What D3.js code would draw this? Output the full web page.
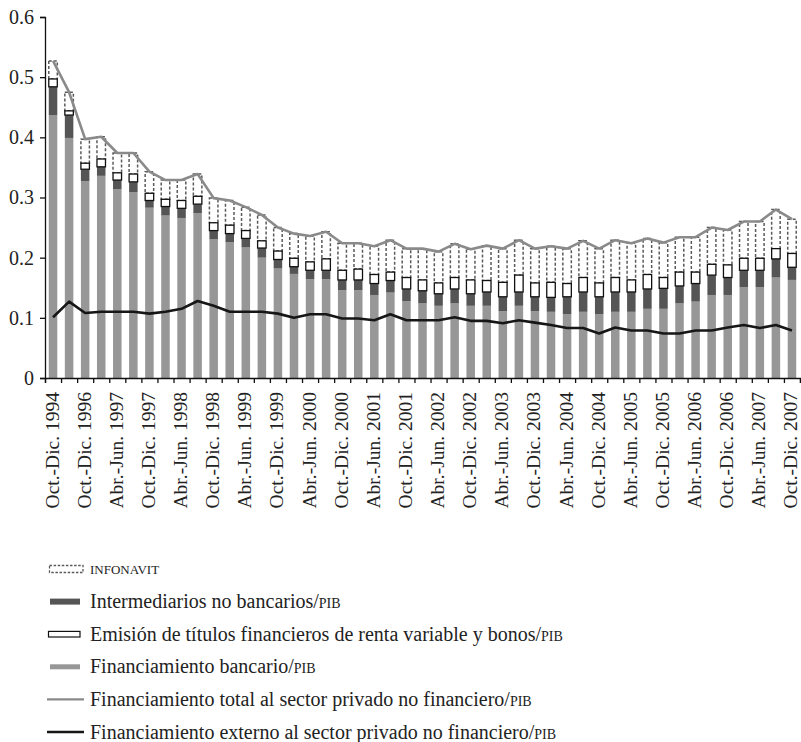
<!DOCTYPE html>
<html>
<head>
<meta charset="utf-8">
<script src="https://cdn.jsdelivr.net/npm/d3@7/dist/d3.min.js"></script>
<style>
  html, body { margin: 0; padding: 0; background: #fff; }
  svg { display: block; }
  text { font-family: "Liberation Serif", "DejaVu Serif", serif; fill: #222; }
</style>
</head>
<body>
<svg id="chart" width="801" height="742"></svg>
<script>
// ---------------- DATA ----------------
const categories = [
  "Oct.-Dic. 1994", "Oct.-Dic. 1995", "Oct.-Dic. 1996",
  "Ene.-Mar. 1997", "Abr.-Jun. 1997", "Jul.-Sep. 1997", "Oct.-Dic. 1997",
  "Ene.-Mar. 1998", "Abr.-Jun. 1998", "Jul.-Sep. 1998", "Oct.-Dic. 1998",
  "Ene.-Mar. 1999", "Abr.-Jun. 1999", "Jul.-Sep. 1999", "Oct.-Dic. 1999",
  "Ene.-Mar. 2000", "Abr.-Jun. 2000", "Jul.-Sep. 2000", "Oct.-Dic. 2000",
  "Ene.-Mar. 2001", "Abr.-Jun. 2001", "Jul.-Sep. 2001", "Oct.-Dic. 2001",
  "Ene.-Mar. 2002", "Abr.-Jun. 2002", "Jul.-Sep. 2002", "Oct.-Dic. 2002",
  "Ene.-Mar. 2003", "Abr.-Jun. 2003", "Jul.-Sep. 2003", "Oct.-Dic. 2003",
  "Ene.-Mar. 2004", "Abr.-Jun. 2004", "Jul.-Sep. 2004", "Oct.-Dic. 2004",
  "Ene.-Mar. 2005", "Abr.-Jun. 2005", "Jul.-Sep. 2005", "Oct.-Dic. 2005",
  "Ene.-Mar. 2006", "Abr.-Jun. 2006", "Jul.-Sep. 2006", "Oct.-Dic. 2006",
  "Ene.-Mar. 2007", "Abr.-Jun. 2007", "Jul.-Sep. 2007", "Oct.-Dic. 2007"
];
// Financiamiento bancario/PIB
const bancario = [.437,.399,.327,.336,.314,.309,.283,.270,.266,.274,.231,.226,.217,.200,.182,.173,.164,.164,.146,.146,.138,.142,.128,.124,.120,.124,.120,.120,.111,.120,.111,.110,.106,.110,.106,.110,.110,.115,.115,.124,.127,.138,.138,.151,.151,.167,.163];
// Intermediarios no bancarios/PIB
const noBancarios = [.047,.038,.020,.015,.015,.017,.012,.015,.016,.015,.014,.014,.015,.016,.015,.012,.015,.015,.017,.017,.019,.020,.020,.021,.020,.024,.020,.023,.024,.023,.024,.024,.029,.033,.029,.033,.033,.033,.034,.029,.030,.033,.029,.028,.028,.031,.021];
// Emisión de títulos financieros de renta variable y bonos/PIB
const titulos = [.013,.007,.010,.013,.012,.013,.012,.012,.013,.013,.013,.014,.013,.012,.014,.014,.014,.019,.016,.018,.015,.014,.019,.018,.018,.019,.023,.019,.024,.028,.023,.025,.022,.024,.023,.024,.020,.024,.018,.023,.019,.018,.021,.020,.020,.017,.023];
// INFONAVIT
const infonavit = [.030,.031,.040,.037,.033,.035,.036,.032,.034,.037,.041,.041,.039,.043,.039,.041,.043,.045,.045,.043,.047,.053,.048,.052,.052,.056,.051,.058,.056,.058,.057,.060,.058,.061,.057,.062,.061,.060,.058,.058,.058,.061,.058,.061,.061,.065,.057];
// Financiamiento total al sector privado no financiero/PIB
const total = [.527,.475,.397,.401,.374,.374,.343,.329,.329,.339,.299,.295,.284,.271,.250,.240,.236,.243,.224,.224,.219,.229,.215,.215,.210,.223,.214,.220,.215,.229,.215,.219,.215,.228,.215,.229,.224,.232,.225,.234,.234,.250,.246,.260,.260,.280,.264];
// Financiamiento externo al sector privado no financiero/PIB
const externo = [.101,.127,.108,.110,.110,.110,.107,.110,.115,.128,.120,.110,.110,.110,.107,.100,.106,.106,.099,.099,.096,.106,.096,.096,.096,.101,.095,.095,.091,.096,.092,.088,.083,.083,.074,.084,.079,.079,.074,.074,.079,.079,.084,.088,.083,.088,.079];

const yTicks = [0, 0.1, 0.2, 0.3, 0.4, 0.5, 0.6];
const legendLabels = [
  "INFONAVIT",
  "Intermediarios no bancarios/",
  "Emisión de títulos financieros de renta variable y bonos/",
  "Financiamiento bancario/",
  "Financiamiento total al sector privado no financiero/",
  "Financiamiento externo al sector privado no financiero/"
];

// ---------------- CHART ----------------
const svg = d3.select("#chart");
const mLeft = 45, mRight = 800, mTop = 17, mBottom = 378;

const rows = categories.map((c, i) => ({
  cat: c, bancario: bancario[i], noBancarios: noBancarios[i],
  titulos: titulos[i], infonavit: infonavit[i]
}));
const keys = ["bancario", "noBancarios", "titulos", "infonavit"];
const stacked = d3.stack().keys(keys)(rows);

const x = d3.scaleBand().domain(categories).range([mLeft, mRight]).paddingInner(0.47).paddingOuter(0.235);
const xEdge = d3.scaleLinear().domain([0, categories.length]).range([mLeft, mRight]);
const y = d3.scaleLinear().domain([0, 0.6]).range([mBottom, mTop]);

const styles = {
  bancario:    { fill: "#979797", stroke: "none" },
  noBancarios: { fill: "#555555", stroke: "none" },
  titulos:     { fill: "#ffffff", stroke: "#111", sw: 1.3 },
  infonavit:   { fill: "#ffffff", stroke: "#5a5a5a", sw: 1.5, dash: "3,2" }
};

const order = ["bancario", "noBancarios", "infonavit", "titulos"];
order.forEach(k => {
  const layer = stacked.find(s => s.key === k);
  const st = styles[k];
  svg.append("g").selectAll("rect").data(layer).join("rect")
    .attr("x", d => x(d.data.cat))
    .attr("width", x.bandwidth())
    .attr("y", d => y(d[1]))
    .attr("height", d => y(d[0]) - y(d[1]))
    .attr("fill", st.fill)
    .attr("stroke", st.stroke)
    .attr("stroke-width", st.sw || 0)
    .attr("stroke-dasharray", st.dash || null);
});

const line = d3.line().x((d, i) => x(categories[i]) + x.bandwidth() / 2).y(d => y(d));
svg.append("path").datum(total).attr("d", line)
  .attr("fill", "none").attr("stroke", "#8a8a8a").attr("stroke-width", 2.6).attr("stroke-linejoin", "round");
svg.append("path").datum(externo).attr("d", line)
  .attr("fill", "none").attr("stroke", "#161616").attr("stroke-width", 2.6).attr("stroke-linejoin", "round");

// Y axis
const yAxis = svg.append("g").attr("transform", `translate(${mLeft},0)`)
  .call(d3.axisLeft(y).tickValues(yTicks).tickSize(5).tickPadding(6)
    .tickFormat(d => d === 0 ? "0" : d3.format(".1f")(d)));
yAxis.select(".domain").attr("stroke", "#111").attr("stroke-width", 1.3);
yAxis.selectAll(".tick line").attr("stroke", "#111").attr("stroke-width", 1.3);
yAxis.selectAll("text").style("font-family", '"Liberation Serif", serif').style("font-size", "20px").attr("fill", "#222");

// X axis: boundary ticks
const xTickAxis = svg.append("g").attr("transform", `translate(0,${mBottom})`)
  .call(d3.axisBottom(xEdge).tickValues(d3.range(categories.length + 1)).tickSize(5).tickFormat(""));
xTickAxis.select(".domain").attr("stroke", "#111").attr("stroke-width", 1.3);
xTickAxis.selectAll(".tick line").attr("stroke", "#111").attr("stroke-width", 1.3);

// X axis labels (every other category)
const xLab = svg.append("g").attr("transform", `translate(0,${mBottom})`)
  .call(d3.axisBottom(x).tickSize(0).tickFormat((d, i) => i % 2 === 0 ? d : ""));
xLab.select(".domain").remove();
xLab.selectAll("text")
  .attr("transform", "rotate(-90)")
  .attr("x", -14).attr("y", 0).attr("dy", "0.28em")
  .style("text-anchor", "end")
  .style("font-family", '"Liberation Serif", serif').style("font-size", "19.5px").attr("fill", "#222");

// Legend
const lg = svg.append("g");
const ly0 = 569, lstep = 32.6, tx = 90;
legendLabels.forEach((lab, i) => {
  const cy = ly0 + i * lstep;
  if (i === 0) {
    lg.append("rect").attr("x", 49.5).attr("y", cy - 3.5).attr("width", 33.5).attr("height", 7)
      .attr("fill", "#fff").attr("stroke", "#5a5a5a").attr("stroke-width", 1.3).attr("stroke-dasharray", "2.5,1.6");
  } else if (i === 1) {
    lg.append("rect").attr("x", 50).attr("y", cy - 3).attr("width", 30).attr("height", 6).attr("fill", "#555");
  } else if (i === 2) {
    lg.append("rect").attr("x", 48.5).attr("y", cy - 2.8).attr("width", 31.5).attr("height", 5.6)
      .attr("fill", "#fff").attr("stroke", "#111").attr("stroke-width", 1.2);
  } else if (i === 3) {
    lg.append("rect").attr("x", 50).attr("y", cy - 2.5).attr("width", 30).attr("height", 5).attr("fill", "#979797");
  } else if (i === 4) {
    lg.append("line").attr("x1", 47).attr("x2", 84).attr("y1", cy).attr("y2", cy)
      .attr("stroke", "#8a8a8a").attr("stroke-width", 2.4);
  } else {
    lg.append("line").attr("x1", 47).attr("x2", 84).attr("y1", cy).attr("y2", cy)
      .attr("stroke", "#161616").attr("stroke-width", 2.4);
  }
  const t = lg.append("text").attr("x", tx).attr("y", cy + 6.5).style("font-size", "20px");
  if (i === 0) {
    t.attr("y", cy + 4.5).style("font-size", "13px").text(lab);
  } else {
    t.append("tspan").text(lab);
    t.append("tspan").style("font-size", "14px").text("PIB");
  }
});
</script>
</body>
</html>
